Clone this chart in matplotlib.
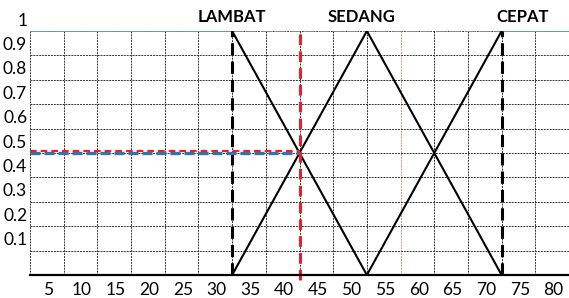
import matplotlib
matplotlib.use("Agg")
import matplotlib.pyplot as plt
from matplotlib.transforms import ScaledTranslation

plt.rcParams["font.family"] = ["Lato", "DejaVu Sans"]

# membership functions (speed on x, degree on y)
lambat_x = [2, 32, 52]
lambat_mu = [1, 1, 0]
sedang_x = [32, 52, 72]
sedang_mu = [0, 1, 0]
cepat_x = [52, 72, 82]
cepat_mu = [0, 1, 1]

set_names = ["LAMBAT", "SEDANG", "CEPAT"]
set_peaks = [32, 52, 72]

# input speed and its membership degree
cut_x = 42
cut_mu = 0.5

x_ticks = [5, 10, 15, 20, 25, 30, 35, 40, 45, 50, 55, 60, 65, 70, 75, 80]
y_ticks = [0.1, 0.2, 0.3, 0.4, 0.5, 0.6, 0.7, 0.8, 0.9, 1.0]
y_labels = ["0.1", "0.2", "0.3", "0.4", "0.5", "0.6", "0.7", "0.8", "0.9", "1"]
grid_x = [2, 7, 12, 17, 22, 27, 32, 37, 42, 47, 52, 57, 62, 67, 72, 77, 82]

fig = plt.figure(figsize=(5.69, 2.98), dpi=100)
ax = fig.add_axes([30 / 569, 23 / 298, 539 / 569, 244 / 298])
ax.set_xlim(2, 82)
ax.set_ylim(0, 1)

# dotted grid
grid_style = dict(color="#333333", lw=0.7, ls=(0, (2, 1)), zorder=1)
for gx in grid_x:
    c = "#c49a7a" if gx == 57 else "#333333"
    ax.axvline(gx, **{**grid_style, "color": c})
for gy in y_ticks:
    ax.axhline(gy, **grid_style)

# shoulders at full membership
ax.plot(lambat_x[:2], lambat_mu[:2], color="#5b9bd5", lw=1.3, zorder=3)
ax.plot(cepat_x[1:], cepat_mu[1:], color="#5b9bd5", lw=1.3, zorder=3)
ax.plot([lambat_x[1], cepat_x[1]], [1, 1], color="#8c8c8c", lw=1.4,
        ls=(0, (5, 2.5)), zorder=3)

# slopes
ax.plot(lambat_x[1:], lambat_mu[1:], color="black", lw=1.5, zorder=4)
ax.plot(sedang_x, sedang_mu, color="black", lw=1.5, zorder=4)
ax.plot(cepat_x[:2], cepat_mu[:2], color="black", lw=1.5, zorder=4)

# peak markers
for p in [set_peaks[0], set_peaks[2]]:
    ax.plot([p, p], [0, 1], color="black", lw=2.2, ls=(0, (4, 2)), zorder=5)

# cut at the input speed
shift = ScaledTranslation(0, 2 / 100, fig.dpi_scale_trans)
ax.plot([x_ticks[0] - 3, cut_x], [cut_mu, cut_mu], color="#2e75b6", lw=2.4,
        ls=(0, (3, 1.2)), zorder=5)
ax.plot([x_ticks[0] - 3, cut_x], [cut_mu, cut_mu], color="#e8202a", lw=1.6,
        ls=(0, (3, 1.8)), zorder=6, transform=ax.transData + shift)
ax.plot([cut_x, cut_x], [-0.02, 1], color="#e8202a", lw=2.2,
        ls=(0, (3.5, 2)), zorder=6, clip_on=False)

# set names above the peaks
name_dx = [0, -4, 15]
for name, p, dx in zip(set_names, set_peaks, name_dx):
    ax.annotate(name, xy=(p, 1), xytext=(dx, 10), textcoords="offset points",
                ha="center", va="center", fontsize=12, fontweight="bold")

ax.set_xticks(x_ticks)
ax.set_xticklabels([str(v) for v in x_ticks])
ax.set_yticks(y_ticks)
ax.set_yticklabels(y_labels)
ax.tick_params(axis="both", length=0, labelsize=12.5)
ax.tick_params(axis="x", pad=5)
ax.tick_params(axis="y", pad=2)
up = ScaledTranslation(0, 12 / 100, fig.dpi_scale_trans)
for lbl in ax.get_yticklabels():
    lbl.set_transform(lbl.get_transform() + up)
left = ScaledTranslation(-2 / 100, 0, fig.dpi_scale_trans)
for lbl in ax.get_xticklabels():
    lbl.set_transform(lbl.get_transform() + left)

for s in ["top", "right", "left"]:
    ax.spines[s].set_visible(False)
ax.spines["bottom"].set_linewidth(1.6)
ax.spines["bottom"].set_zorder(7)

fig.savefig("out.png", dpi=100)
